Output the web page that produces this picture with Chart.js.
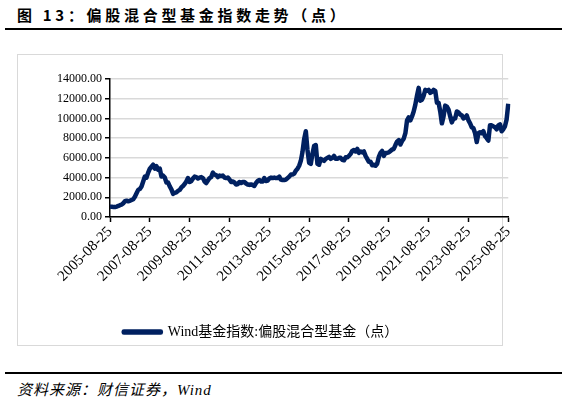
<!DOCTYPE html>
<html>
<head>
<meta charset="utf-8">
<script src="https://cdn.jsdelivr.net/npm/chart.js@4/dist/chart.umd.min.js"></script>
<style>
  body { margin: 0; width: 567px; height: 405px; background: #fff; position: relative; overflow: hidden; }
  #title { position: absolute; left: 17px; top: 4px; font: bold 15px "Noto Sans CJK SC", sans-serif; letter-spacing: 3.7px; color: #000; white-space: nowrap; }
  .rule { position: absolute; left: 5px; width: 557px; height: 2px; background: #000; }
  #box { position: absolute; left: 17px; top: 54px; width: 484px; height: 290px; border: 1px solid #d9d9d9; }
  #wrap { position: absolute; left: 0px; top: 54px; width: 522px; height: 295px; }
  #source { position: absolute; left: 17px; top: 378px; font: italic 15px "Liberation Serif", "Noto Sans CJK SC", serif; letter-spacing: 1px; color: #000; white-space: nowrap; }
</style>
</head>
<body>
<div id="title">图 13：偏股混合型基金指数走势（点）</div>
<div class="rule" style="top:28px"></div>
<div id="box"></div>
<div id="wrap"><canvas id="indexChart"></canvas></div>
<div class="rule" style="top:372px"></div>
<div id="source">资料来源：财信证券，Wind</div>

<script>
// monthly closes, 2005-08 .. 2025-08
const indexValues = [
  1040, 1050, 1020, 1010, 1060,
  1120, 1200, 1250, 1400, 1600, 1650, 1600, 1640, 1720, 1800, 2050, 2400,
  2750, 2850, 3100, 3600, 4100, 4000, 4500, 4900, 5100, 5300, 4900, 5150,
  4800, 4900, 4100, 4200, 4000, 3500, 3500, 3100, 2800, 2350, 2450, 2500,
  2650, 2750, 3000, 3150, 3350, 3600, 3950, 3550, 3650, 3900, 4100, 4050,
  3900, 4000, 4050, 3950, 3600, 3450, 3700, 3950, 4050, 4500, 4300, 4250,
  4050, 4200, 4150, 4200, 4000, 3950, 4000, 3800, 3550, 3600, 3500, 3300,
  3350, 3550, 3450, 3550, 3550, 3400, 3300, 3250, 3300, 3250, 3150, 3450,
  3650, 3750, 3600, 3600, 3950, 3650, 3700, 3900, 4000, 3950, 4000, 3950,
  3950, 4100, 3800, 3750, 3750, 3800, 3950, 4100, 4300, 4300, 4400, 4700,
  4900, 5200, 5700, 6600, 7900, 8700, 6800, 5500, 5400, 6400, 7200, 7300,
  5400, 5300, 5900, 5800, 5700, 5900, 6000, 6100, 5900, 6000, 6200, 5900,
  5900, 6000, 6000, 5800, 5750, 6050, 6050, 6200, 6400, 6700, 6800, 6650,
  6900, 6500, 6650, 6550, 6650, 6200, 5900, 5600, 5600, 5250, 5300, 5200,
  5400, 6100, 6500, 6700, 6200, 6500, 6500, 6550, 6700, 6850, 6900, 7300,
  7650, 7800, 7350, 7700, 7950, 8500, 9800, 10100, 9800, 10200, 10700, 11400,
  12300, 13100, 11800, 11900, 12300, 12900, 12800, 12900, 12600, 12700, 12900, 12800,
  11600, 11600, 10700, 9500, 10200, 11300, 11200, 10900, 10200, 9600, 10000, 10000,
  10700, 10600, 10400, 10300, 10000, 10100, 10300, 9800, 9500, 9100, 9000, 8500,
  7600, 8500, 8600, 8500, 8700, 8200, 8000, 7750, 9300, 9300, 9200, 9100,
  8900, 9300, 9400, 8700, 8900, 9200, 9900, 11500
]

const labels = []
for (let i = 0; i < indexValues.length; i++) {
    const m = 7 + i
    const year = 2005 + Math.floor(m / 12)
    const month = (m % 12) + 1
    labels.push(`${year}-${month < 10 ? '0' + month : month}-25`)
}

const seriesName = 'Wind基金指数:偏股混合型基金（点）'
const navy = '#002060'
const serif = '"Liberation Serif", "Times New Roman", serif'

const data = {
    labels: labels,
    datasets: [{
        label: seriesName,
        data: indexValues,
        borderColor: navy,
        backgroundColor: navy,
        borderWidth: 4.5,
        pointRadius: 0,
        tension: 0,
        borderJoinStyle: 'round'
    }]
}

const config = {
    type: 'line',
    data: data,
    options: {
        responsive: true,
        maintainAspectRatio: false,
        animation: false,
        layout: { padding: { top: 25, right: 0, left: 0, bottom: 0 } },
        plugins: {
            legend: {
                position: 'bottom',
                labels: {
                    boxWidth: 37,
                    boxHeight: 1,
                    padding: 6,
                    color: '#000',
                    font: { family: '"Liberation Serif", "Noto Sans CJK SC", serif', size: 14 }
                }
            },
            tooltip: { enabled: false }
        },
        scales: {
            x: {
                type: 'category',
                offset: false,
                grid: { drawOnChartArea: false, drawTicks: true, tickLength: 5, tickColor: '#000', tickWidth: 1.5 },
                border: { color: '#000', width: 1.5 },
                ticks: {
                    autoSkip: false,
                    maxRotation: 45,
                    minRotation: 45,
                    padding: 1,
                    color: '#000',
                    font: { family: serif, size: 15 },
                    callback: (val, idx) => idx % 24 === 0 ? labels[idx] : null
                },
                afterFit: (scale) => { scale.height = 102 }
            },
            y: {
                min: 0,
                max: 14000,
                grid: { color: '#d9d9d9', lineWidth: 1.5, tickLength: 5, tickColor: '#000', tickWidth: 1.5 },
                border: { color: '#000', width: 1.5 },
                ticks: {
                    stepSize: 2000,
                    padding: 3,
                    color: '#000',
                    font: { family: serif, size: 12 },
                    callback: (v) => v.toFixed(2)
                },
                afterFit: (scale) => { scale.width = 110 }
            }
        }
    }
}

const indexChart = new Chart(document.getElementById('indexChart'), config)
</script>
</body>
</html>
